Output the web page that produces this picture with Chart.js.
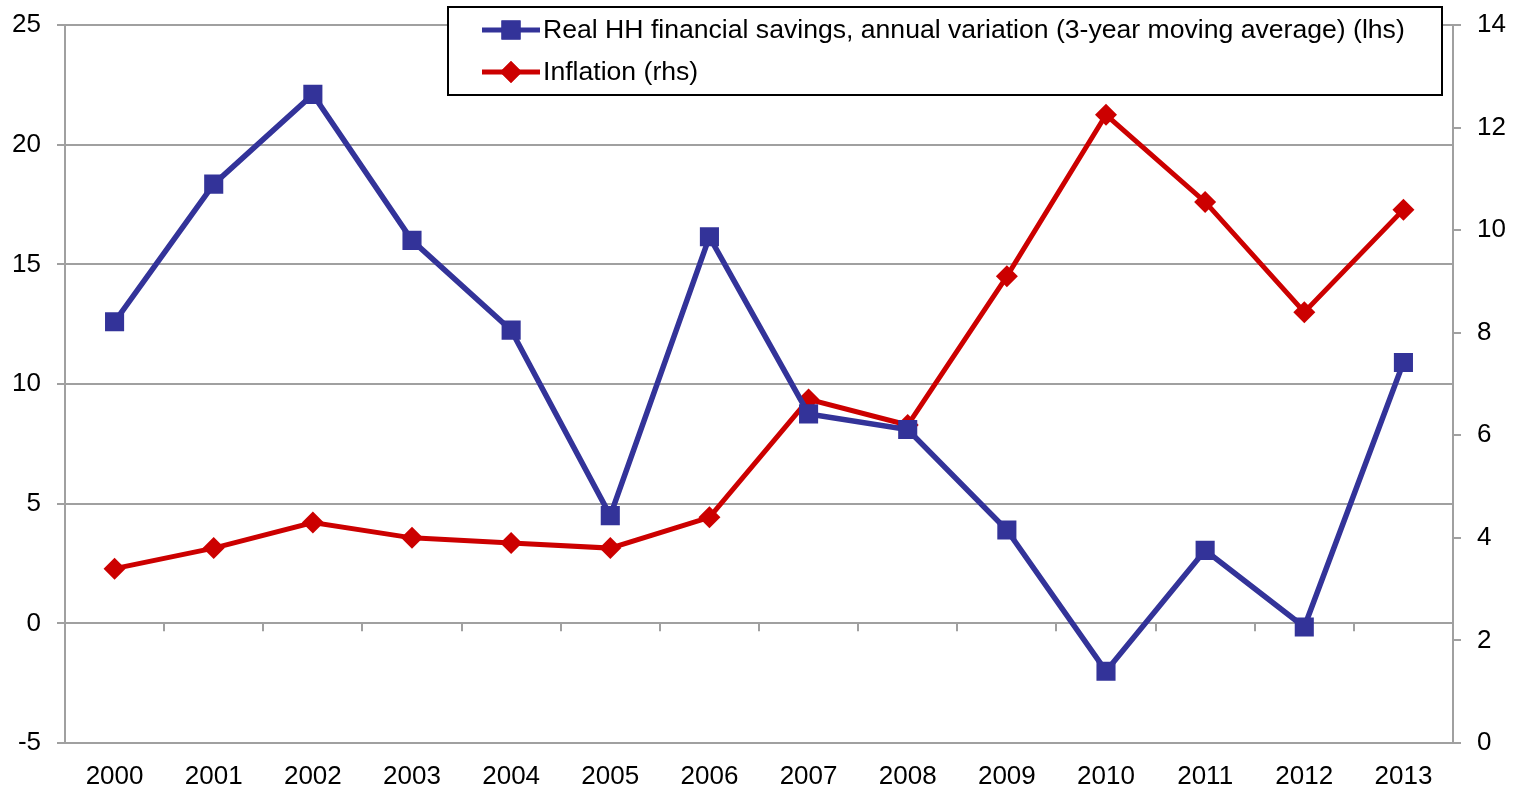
<!DOCTYPE html>
<html lang="en">
<head>
    <meta charset="utf-8">
    <script src="https://cdn.jsdelivr.net/npm/chart.js"></script>
    <style>
        html, body { margin: 0; padding: 0; background: #ffffff; }
        .chart-box { position: relative; width: 1516px; height: 789px; }
    </style>
</head>
<body>
    <div class="chart-box">
        <canvas id="savingsChart" width="1516" height="789"></canvas>
    </div>

    <script>
        const years = ['2000', '2001', '2002', '2003', '2004', '2005', '2006',
                       '2007', '2008', '2009', '2010', '2011', '2012', '2013'];
        // 3-year moving average of real household financial savings growth, %
        const savingsVar = [12.6, 18.35, 22.1, 16.0, 12.25, 4.5, 16.15,
                            8.75, 8.1, 3.9, -2.0, 3.05, -0.15, 10.9];
        // inflation, %
        const inflation = [3.4, 3.8, 4.3, 4.0, 3.9, 3.8, 4.4,
                           6.7, 6.2, 9.1, 12.25, 10.55, 8.4, 10.4];

        const savingsLabel = 'Real HH financial savings, annual variation (3-year moving average) (lhs)';
        const inflationLabel = 'Inflation (rhs)';

        const BLUE = '#333399';
        const RED = '#cc0000';
        const GRID = '#a0a0a0';
        const FONT = '"Liberation Sans", Arial, sans-serif';

        // small tick marks hanging under the zero line, between the years
        const zeroTicks = {
            id: 'zeroTicks',
            afterDatasetsDraw(chart) {
                const xs = chart.scales.x;
                const y0 = chart.scales.y.getPixelForValue(0);
                const c = chart.ctx;
                c.save();
                c.strokeStyle = GRID;
                c.lineWidth = 2;
                c.beginPath();
                for (let i = 1; i < years.length; i++) {
                    const x = Math.round(xs.getPixelForValue(i - 0.5));
                    c.moveTo(x, y0);
                    c.lineTo(x, y0 + 8);
                }
                c.stroke();
                c.restore();
            }
        };

        // boxed legend sitting on top of the plot
        const boxLegend = {
            id: 'boxLegend',
            afterDraw(chart) {
                const c = chart.ctx;
                const bx = 448, by = 7, bw = 994, bh = 88;
                c.save();
                c.fillStyle = '#ffffff';
                c.fillRect(bx, by, bw, bh);
                c.strokeStyle = '#000000';
                c.lineWidth = 2;
                c.strokeRect(bx, by, bw, bh);

                const rows = [
                    { label: savingsLabel, color: BLUE, style: 'rect', r: 13.5, y: 30 },
                    { label: inflationLabel, color: RED, style: 'rectRot', r: 11, y: 72 }
                ];
                c.font = '26.6px ' + FONT;
                c.textBaseline = 'middle';
                rows.forEach(row => {
                    c.strokeStyle = row.color;
                    c.lineWidth = 5;
                    c.beginPath();
                    c.moveTo(482, row.y);
                    c.lineTo(540, row.y);
                    c.stroke();
                    c.fillStyle = row.color;
                    Chart.helpers.drawPoint(c, {
                        pointStyle: row.style, radius: row.r, borderWidth: 0, rotation: 0
                    }, 511, row.y);
                    c.fill();
                    c.fillStyle = '#000000';
                    c.fillText(row.label, 543, row.y + 1);
                });
                c.restore();
            }
        };

        // fixed side widths; the top edge of the plot comes from layout padding only
        function fitSide(width) {
            return scale => {
                scale.width = width;
                scale.paddingTop = 0;
                scale.paddingBottom = 0;
            };
        }

        new Chart(document.getElementById('savingsChart'), {
            type: 'line',
            data: {
                labels: years,
                datasets: [
                    {
                        label: savingsLabel,
                        data: savingsVar,
                        yAxisID: 'y',
                        borderColor: BLUE,
                        backgroundColor: BLUE,
                        borderWidth: 5.5,
                        pointStyle: 'rect',
                        pointRadius: 13.5,
                        pointBorderWidth: 0,
                        tension: 0
                    },
                    {
                        label: inflationLabel,
                        data: inflation,
                        yAxisID: 'y1',
                        borderColor: RED,
                        backgroundColor: RED,
                        borderWidth: 5,
                        pointStyle: 'rectRot',
                        pointRadius: 11,
                        pointBorderWidth: 0,
                        tension: 0
                    }
                ]
            },
            options: {
                responsive: false,
                animation: false,
                layout: { padding: { top: 25, left: 0, right: 0, bottom: 0 } },
                plugins: {
                    legend: { display: false },
                    tooltip: { enabled: false }
                },
                scales: {
                    x: {
                        offset: true,
                        grid: { display: false, drawTicks: false },
                        border: { display: false },
                        ticks: {
                            color: '#000000',
                            font: { family: FONT, size: 26 },
                            padding: 18,
                            maxRotation: 0,
                            autoSkip: false
                        },
                        afterFit(scale) { scale.height = 46; }
                    },
                    y: {
                        position: 'left',
                        min: -5,
                        max: 25,
                        ticks: {
                            stepSize: 5,
                            color: '#000000',
                            font: { family: FONT, size: 26 },
                            padding: 16
                        },
                        grid: { color: GRID, lineWidth: 2, tickLength: 8 },
                        border: { display: true, color: GRID, width: 2 },
                        afterFit: fitSide(65)
                    },
                    y1: {
                        position: 'right',
                        min: 0,
                        max: 14,
                        ticks: {
                            stepSize: 2,
                            color: '#000000',
                            font: { family: FONT, size: 26 },
                            padding: 16
                        },
                        grid: { drawOnChartArea: false, color: GRID, lineWidth: 2, tickLength: 8 },
                        border: { display: true, color: GRID, width: 2 },
                        afterFit: fitSide(63)
                    }
                }
            },
            plugins: [zeroTicks, boxLegend]
        });
    </script>
</body>
</html>
